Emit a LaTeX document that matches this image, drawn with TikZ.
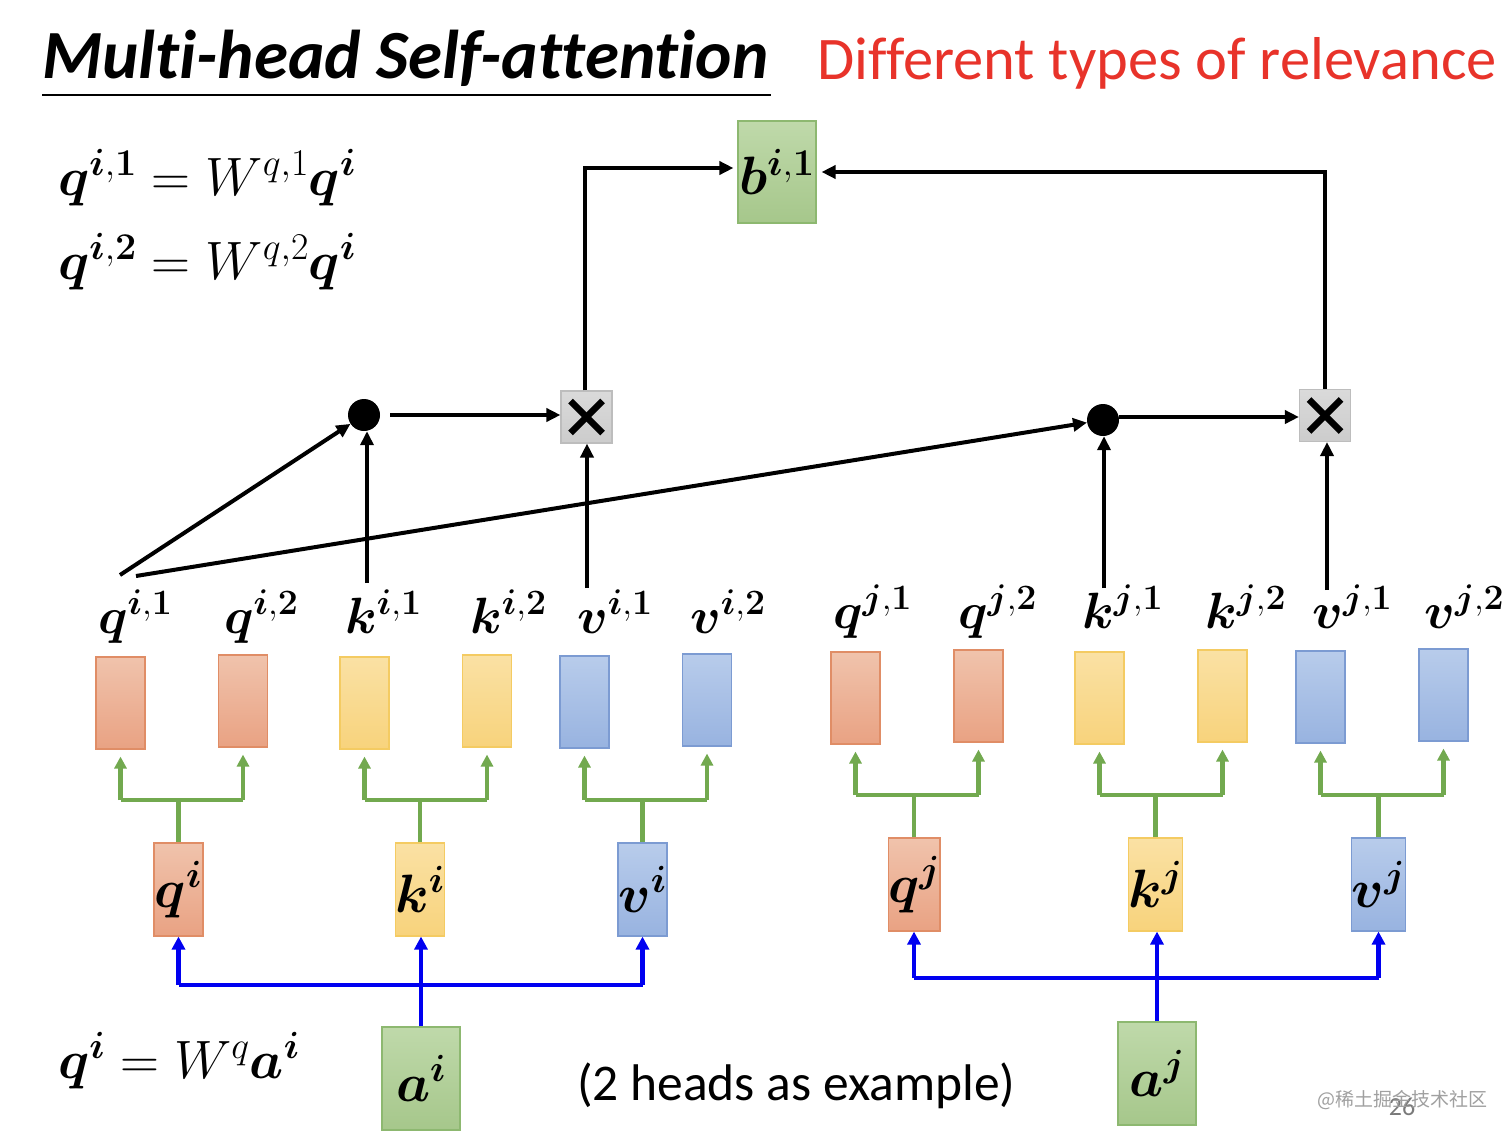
\RequirePackage{fix-cm}
\documentclass[tikz,border=0pt]{standalone}
\usepackage[no-math]{fontspec}
\setmainfont{Carlito}[Ligatures={NoCommon}]
\newfontfamily\cjkfont{Noto Sans CJK SC}
\usepackage{bm}
\usetikzlibrary{arrows.meta}
\definecolor{ortop}{HTML}{F0C3AC}
\definecolor{orbot}{HTML}{E9A283}
\definecolor{orline}{HTML}{E08D66}
\definecolor{yetop}{HTML}{FAE1A4}
\definecolor{yebot}{HTML}{F8D37C}
\definecolor{yeline}{HTML}{F4CB62}
\definecolor{bltop}{HTML}{B8CCEB}
\definecolor{blbot}{HTML}{98B3E0}
\definecolor{blline}{HTML}{7C9BD2}
\definecolor{grtop}{HTML}{BFD9AA}
\definecolor{grbot}{HTML}{A6C78B}
\definecolor{grline}{HTML}{8DB870}
\definecolor{xtop}{HTML}{DADADA}
\definecolor{xbot}{HTML}{CCCCCC}
\definecolor{xline}{HTML}{BDBDBD}
\definecolor{garrow}{HTML}{72A94F}
\definecolor{bluearrow}{HTML}{0000F0}
\definecolor{redtext}{HTML}{E8332A}
\definecolor{wmgrey}{HTML}{A0A0A0}
\definecolor{pggrey}{HTML}{7A7A7A}
\tikzset{
  vbox/.style={minimum width=49pt,minimum height=92pt,inner sep=0pt,line width=1.1pt},
  orb/.style={vbox,draw=orline,top color=ortop,bottom color=orbot},
  yeb/.style={vbox,draw=yeline,top color=yetop,bottom color=yebot},
  blb/.style={vbox,draw=blline,top color=bltop,bottom color=blbot},
  grb/.style={minimum width=78pt,minimum height=103pt,inner sep=0pt,line width=1.1pt,draw=grline,top color=grtop,bottom color=grbot},
  xbox/.style={minimum width=51pt,minimum height=52pt,inner sep=0pt,line width=1.1pt,draw=xline,top color=xtop,bottom color=xbot},
  dotnode/.style={circle,fill=black,minimum size=32pt,inner sep=0pt},
  mfont/.style={font=\fontsize{54}{60}\selectfont},
  lab/.style={anchor=base west,inner sep=0pt,font=\fontsize{51}{58}\selectfont},
  arr/.style={line width=4pt,-{Triangle[length=14pt,width=13pt]}},
  gln/.style={draw=garrow,line width=4.2pt},
  garr/.style={gln,-{Triangle[length=12pt,width=12pt]},shorten >=7pt},
  bln/.style={draw=bluearrow,line width=4.5pt},
  barr/.style={bln,-{Triangle[length=13pt,width=13pt]}},
  xmark/.style={line width=6.5pt},
}
\begin{document}
\begin{tikzpicture}[x=1pt,y=-1pt]
\useasboundingbox[fill=white] (0,0) rectangle (1512,1140);
% titles
\node[anchor=base west,inner sep=0pt,font=\fontsize{69}{76}\selectfont\bfseries\itshape] (title) at (42,78) {Multi-head Self-attention};
\draw[line width=2.5pt] (title.south west |- 0,95) coordinate (ul1) -- (771,95) coordinate (ul2);
\node[anchor=base west,inner sep=0pt,text=redtext,font=\fontsize{60.5}{68}\selectfont] (rel) at (817,80) {Different types of relevance};
% equations
\node[lab,mfont] (eq1) at (58,195) {$\bm{q}^{\bm{i},\bm{1}} = W^{q,1}\bm{q}^{\bm{i}}$};
\node[lab,mfont] (eq2) at (58,279) {$\bm{q}^{\bm{i},\bm{2}} = W^{q,2}\bm{q}^{\bm{i}}$};
\node[lab,mfont] (eq3) at (58,1078) {$\bm{q}^{\bm{i}} = W^{q}\bm{a}^{\bm{i}}$};
\node[anchor=base west,inner sep=0pt,font=\fontsize{51.5}{58}\selectfont] (note) at (577,1100) {(2 heads as example)};
% top row boxes
\node[orb] (qi1) at (120.5,703) {};
\node[orb] (qi2) at (243,701) {};
\node[yeb] (ki1) at (364.5,703) {};
\node[yeb] (ki2) at (487,701) {};
\node[blb] (vi1) at (584.5,702) {};
\node[blb] (vi2) at (707,700) {};
\node[orb] (qj1) at (855.5,698) {};
\node[orb] (qj2) at (978.5,696) {};
\node[yeb] (kj1) at (1099.5,698) {};
\node[yeb] (kj2) at (1222.5,696) {};
\node[blb] (vj1) at (1320.5,697) {};
\node[blb] (vj2) at (1443.5,695) {};
% labels
\node[lab] (qi1l) at (98,633) {$\bm{q}^{\bm{i},\bm{1}}$};
\node[lab] (qi2l) at (224,633) {$\bm{q}^{\bm{i},\bm{2}}$};
\node[lab] (ki1l) at (345,633) {$\bm{k}^{\bm{i},\bm{1}}$};
\node[lab] (ki2l) at (470,633) {$\bm{k}^{\bm{i},\bm{2}}$};
\node[lab] (vi1l) at (577,633) {$\bm{v}^{\bm{i},\bm{1}}$};
\node[lab] (vi2l) at (690,633) {$\bm{v}^{\bm{i},\bm{2}}$};
\node[lab] (qj1l) at (833,628) {$\bm{q}^{\bm{j},\bm{1}}$};
\node[lab] (qj2l) at (958,628) {$\bm{q}^{\bm{j},\bm{2}}$};
\node[lab] (kj1l) at (1082,628) {$\bm{k}^{\bm{j},\bm{1}}$};
\node[lab] (kj2l) at (1205,628) {$\bm{k}^{\bm{j},\bm{2}}$};
\node[lab] (vj1l) at (1312,628) {$\bm{v}^{\bm{j},\bm{1}}$};
\node[lab] (vj2l) at (1424,628) {$\bm{v}^{\bm{j},\bm{2}}$};
% middle boxes
\node[orb,minimum height=93pt,mfont] (qi) at (178.5,889.5) {$\bm{q}^{\bm{i}}$};
\node[yeb,minimum height=93pt,mfont] (ki) at (420,889.5) {$\bm{k}^{\bm{i}}$};
\node[blb,minimum height=93pt,mfont] (vi) at (642.5,889.5) {$\bm{v}^{\bm{i}}$};
\node[orb,minimum height=93pt,mfont] (qj) at (914,884.5) {$\bm{q}^{\bm{j}}$};
\node[yeb,minimum height=93pt,mfont] (kj) at (1155.5,884.5) {$\bm{k}^{\bm{j}}$};
\node[blb,minimum height=93pt,mfont] (vj) at (1378.5,884.5) {$\bm{v}^{\bm{j}}$};
% inputs
\node[grb,mfont] (ai) at (421,1078.5) {$\bm{a}^{\bm{i}}$};
\node[grb,mfont] (aj) at (1157,1073.5) {$\bm{a}^{\bm{j}}$};
% output
\node[grb,minimum height=102pt,mfont] (b) at (777,172) {$\bm{b}^{\bm{i},\bm{1}}$};
% dots and products
\node[dotnode] (d1) at (364,415) {};
\node[dotnode] (d2) at (1103,420) {};
\node[xbox] (x1) at (586.5,417) {};
\node[xbox] (x2) at (1325,415.5) {};
\foreach \n in {x1,x2}{
  \draw[xmark] ([shift={(-16pt,-16pt)}]\n.center) -- ([shift={(16pt,16pt)}]\n.center);
  \draw[xmark] ([shift={(-16pt,16pt)}]\n.center) -- ([shift={(16pt,-16pt)}]\n.center);
}
% green splits
\coordinate (gi) at (0,800);
\coordinate (gj) at (0,795);
\foreach \p/\a/\c/\y in {qi/qi1/qi2/gi, ki/ki1/ki2/gi, vi/vi1/vi2/gi, qj/qj1/qj2/gj, kj/kj1/kj2/gj, vj/vj1/vj2/gj}{
  \draw[gln] (\p.north) -- (\p.north |- \y);
  \draw[gln] (\a.south |- \y) -- (\c.south |- \y);
  \draw[garr] (\a.south |- \y) -- (\a.south);
  \draw[garr] (\c.south |- \y) -- (\c.south);
}
% blue splits
\coordinate (bi) at (0,985);
\coordinate (bj) at (0,978);
\draw[bln] (qi.south |- bi) -- (vi.south |- bi);
\draw[barr] (qi.south |- bi) -- (qi.south);
\draw[barr] (vi.south |- bi) -- (vi.south);
\draw[barr] (ai.north) -- (ai.north |- ki.south);
\draw[bln] (qj.south |- bj) -- (vj.south |- bj);
\draw[barr] (qj.south |- bj) -- (qj.south);
\draw[barr] (vj.south |- bj) -- (vj.south);
\draw[barr] (aj.north) -- (aj.north |- kj.south);
% attention arrows
\coordinate (s1) at (120,575);
\coordinate (s2) at (136,576);
\coordinate (s3) at (367,583);
\coordinate (s4) at (587,588);
\coordinate (s5) at (1104,588);
\coordinate (s6) at (1327,590);
\draw[arr] (s1) -- (d1);
\draw[arr] (s2) -- (d2);
\draw[arr] (s3) -- (s3 |- d1.south);
\draw[arr] (s4) -- (s4 |- x1.south);
\draw[arr] (s5) -- (s5 |- d2.south);
\draw[arr] (s6) -- (s6 |- x2.south);
\draw[arr,shorten <=10pt] (d1.east) -- (d1.east -| x1.west);
\draw[arr] (d2.east |- 0,417) -- (x2.west |- 0,417);
\draw[arr,shorten >=4pt] (x1.north -| 585,0) |- ([yshift=4pt]b.west);
\draw[arr,shorten >=5pt] (x2.north) |- (b.east);
% watermark
\node[inner sep=0pt,text=pggrey,font=\fontsize{26}{28}\selectfont] (pg) at (1402,1107) {26};
\node[inner sep=0pt,text=wmgrey,font=\cjkfont\fontsize{19}{22}\selectfont] (wm) at (1402,1100) {@稀土掘金技术社区};
\end{tikzpicture}
\end{document}
